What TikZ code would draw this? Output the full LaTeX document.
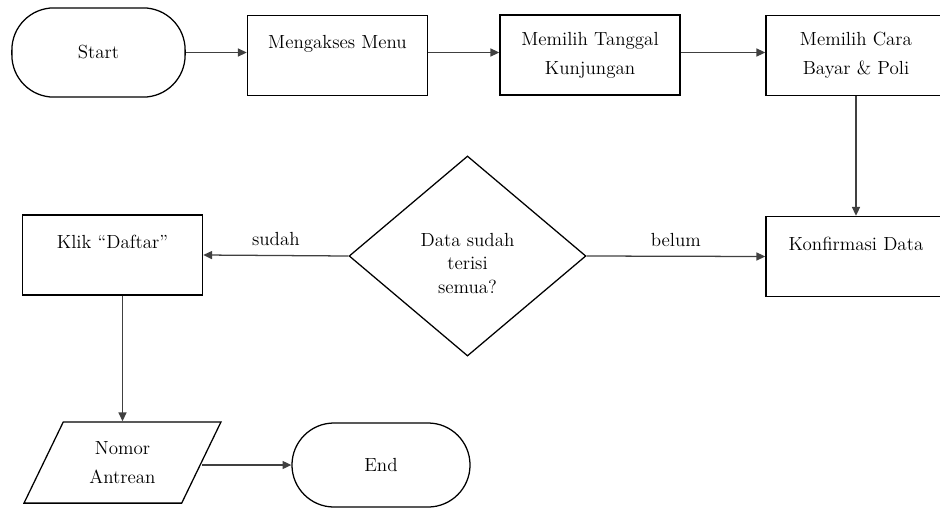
\documentclass[tikz,border=0pt]{standalone}
\usetikzlibrary{arrows.meta,shapes.geometric}

\tikzset{
  box/.style={draw, line width=1pt, rectangle, minimum width=4.5cm, minimum height=2cm,
    align=center, inner sep=2pt},
  terminal/.style={draw, line width=0.9pt, rectangle, rounded corners=1.05cm, align=center},
  decision/.style={draw, line width=0.9pt, diamond, minimum width=5.92cm, minimum height=5cm,
    inner sep=0pt, align=center, font=\fontsize{13.5}{17}\selectfont},
  io/.style={draw, line width=0.9pt, trapezium, trapezium left angle=64, trapezium right angle=116,
    trapezium stretches=true, minimum width=4.97cm, minimum height=2.03cm, align=center},
  arr/.style={-{Triangle[length=2.2mm,width=2mm]}, line width=0.9pt, draw=black!75}
}

\begin{document}
\begin{tikzpicture}[x=0.025cm, y=-0.025cm, font=\fontsize{13.5}{20.5}\selectfont]
  \useasboundingbox (0,0) rectangle (940,508);

  % Top row
  \node[terminal, minimum width=4.33cm, minimum height=2.23cm] (start) at (98.5,52.5) {Start};
  \node[box] (menu) at (337.5,55.5) {Mengakses Menu\\[-8pt] \strut};
  \node[box] (tanggal) at (590,55) {Memilih Tanggal\\Kunjungan};
  \node[box] (cara) at (856,55.5) {Memilih Cara\\Bayar \& Poli};

  % Middle row
  \node[box] (klik) at (112.5,255) {Klik ``Daftar''\\[-8pt] \strut};
  \node[decision] (cek) at (467.5,256) {\rule{0pt}{20pt}Data sudah\\terisi\\semua?};
  \node[box] (konfirmasi) at (856,256.5) {Konfirmasi Data\\[-8pt] \strut};

  % Bottom row
  \node[io] (nomor) at (122.5,462.5) {Nomor\\Antrean};
  \node[terminal, minimum width=4.45cm, minimum height=2.1cm] (end) at (381,465) {End};

  % Connectors
  \draw[arr] (start.east) -- (start.east -| menu.west);
  \draw[arr] (start.east -| menu.east) -- (start.east -| tanggal.west);
  \draw[arr] (start.east -| tanggal.east) -- (start.east -| cara.west);
  \draw[arr] (cara) -- (konfirmasi);
  \draw[arr] (cek.west) -- node[above=3pt] {sudah} (klik.east);
  \draw[arr] (cek.east) -- node[above=3pt] {belum} (konfirmasi.west);
  \draw[arr] (klik.south -| nomor.north) -- (nomor.north);
  \draw[arr] (nomor.east |- end.west) -- (end.west);

\end{tikzpicture}
\end{document}
